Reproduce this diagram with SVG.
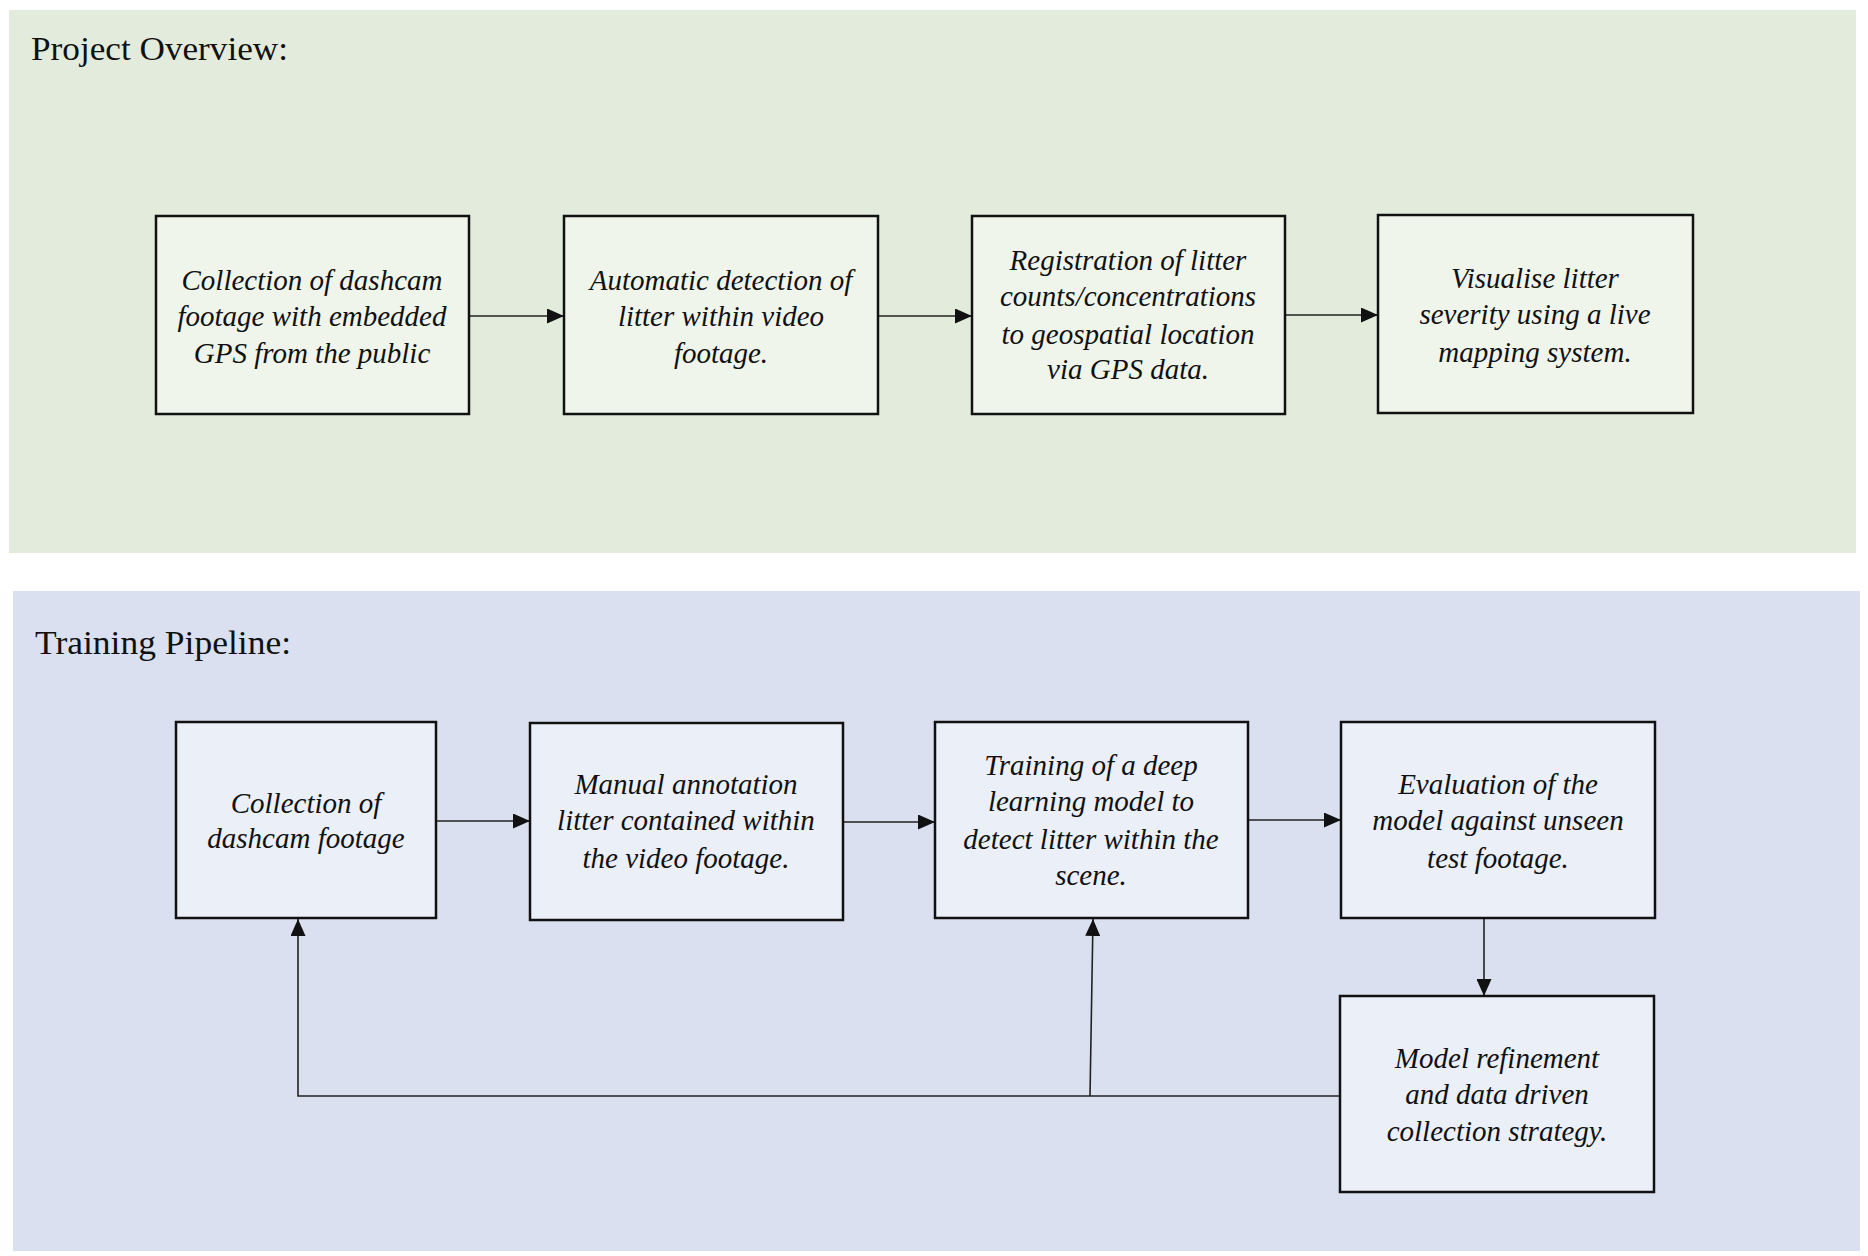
<svg xmlns="http://www.w3.org/2000/svg" width="1868" height="1256" viewBox="0 0 1868 1256">
<style>
.panelG{fill:#e3ecdc}
.panelB{fill:#dae0ef}
.boxG{fill:#eff5eb;stroke:#111;stroke-width:2.5}
.boxB{fill:#eaeff8;stroke:#111;stroke-width:2.5}
.title{font-family:"Liberation Serif","DejaVu Serif",serif;font-size:33px;fill:#111}
.lbl{font-family:"Liberation Serif","DejaVu Serif",serif;font-style:italic;font-size:29px;fill:#111;text-anchor:middle}
.conn{fill:none;stroke:#222;stroke-width:1.6}
</style>
<defs>
<marker id="ah" markerWidth="17" markerHeight="15" refX="17" refY="7.5" orient="auto" markerUnits="userSpaceOnUse">
<path d="M0,0 L17,7.5 L0,15 Z" fill="#111"/>
</marker>
</defs>
<rect width="1868" height="1256" fill="#ffffff"/>
<rect class="panelG" x="9" y="10" width="1847" height="543"/>
<rect class="panelB" x="13" y="591" width="1847" height="660"/>
<text class="title" x="31" y="60" textLength="257" lengthAdjust="spacingAndGlyphs">Project Overview:</text>
<text class="title" x="35" y="654" textLength="256" lengthAdjust="spacingAndGlyphs">Training Pipeline:</text>

<g id="connectors">
<line class="conn" x1="469" y1="316" x2="564" y2="316" marker-end="url(#ah)"/>
<line class="conn" x1="878" y1="316" x2="972" y2="316" marker-end="url(#ah)"/>
<line class="conn" x1="1285" y1="315" x2="1378" y2="315" marker-end="url(#ah)"/>
<line class="conn" x1="436" y1="821" x2="530" y2="821" marker-end="url(#ah)"/>
<line class="conn" x1="843" y1="822" x2="935" y2="822" marker-end="url(#ah)"/>
<line class="conn" x1="1248" y1="820" x2="1341" y2="820" marker-end="url(#ah)"/>
<line class="conn" x1="1484" y1="918" x2="1484" y2="996" marker-end="url(#ah)"/>
<polyline class="conn" points="1340,1096 298,1096 298,919" marker-end="url(#ah)"/>
<line class="conn" x1="1090" y1="1096" x2="1093" y2="919" marker-end="url(#ah)"/>
</g>

<g id="overview-1">
<rect class="boxG" x="156" y="216" width="313" height="198"/>
<text class="lbl"><tspan x="312" y="290">Collection of dashcam</tspan><tspan x="312" y="326">footage with embedded</tspan><tspan x="312" y="363">GPS from the public</tspan></text>
</g>
<g id="overview-2">
<rect class="boxG" x="564" y="216" width="314" height="198"/>
<text class="lbl"><tspan x="721" y="290">Automatic detection of</tspan><tspan x="721" y="326">litter within video</tspan><tspan x="721" y="363">footage.</tspan></text>
</g>
<g id="overview-3">
<rect class="boxG" x="972" y="216" width="313" height="198"/>
<text class="lbl"><tspan x="1128" y="270">Registration of litter</tspan><tspan x="1128" y="306">counts/concentrations</tspan><tspan x="1128" y="344">to geospatial location</tspan><tspan x="1128" y="379">via GPS data.</tspan></text>
</g>
<g id="overview-4">
<rect class="boxG" x="1378" y="215" width="315" height="198"/>
<text class="lbl"><tspan x="1535" y="288">Visualise litter</tspan><tspan x="1535" y="324">severity using a live</tspan><tspan x="1535" y="362">mapping system.</tspan></text>
</g>

<g id="pipeline-1">
<rect class="boxB" x="176" y="722" width="260" height="196"/>
<text class="lbl"><tspan x="306" y="813">Collection of</tspan><tspan x="306" y="848">dashcam footage</tspan></text>
</g>
<g id="pipeline-2">
<rect class="boxB" x="530" y="723" width="313" height="197"/>
<text class="lbl"><tspan x="686" y="794">Manual annotation</tspan><tspan x="686" y="830">litter contained within</tspan><tspan x="686" y="868">the video footage.</tspan></text>
</g>
<g id="pipeline-3">
<rect class="boxB" x="935" y="722" width="313" height="196"/>
<text class="lbl"><tspan x="1091" y="775">Training of a deep</tspan><tspan x="1091" y="811">learning model to</tspan><tspan x="1091" y="849">detect litter within the</tspan><tspan x="1091" y="885">scene.</tspan></text>
</g>
<g id="pipeline-4">
<rect class="boxB" x="1341" y="722" width="314" height="196"/>
<text class="lbl"><tspan x="1498" y="794">Evaluation of the</tspan><tspan x="1498" y="830">model against unseen</tspan><tspan x="1498" y="868">test footage.</tspan></text>
</g>
<g id="pipeline-5">
<rect class="boxB" x="1340" y="996" width="314" height="196"/>
<text class="lbl"><tspan x="1497" y="1068">Model refinement</tspan><tspan x="1497" y="1104">and data driven</tspan><tspan x="1497" y="1141">collection strategy.</tspan></text>
</g>
</svg>
